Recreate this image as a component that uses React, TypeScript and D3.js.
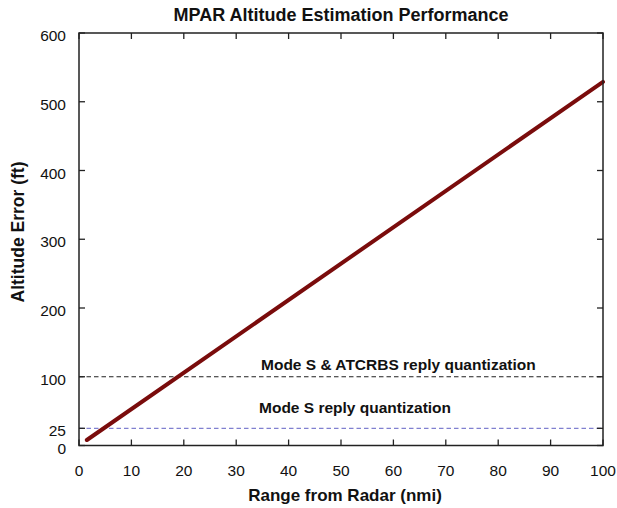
import React from "react";
import * as d3 from "d3";

const xTicks = [0, 10, 20, 30, 40, 50, 60, 70, 80, 90, 100];
const yTicks = [0, 25, 100, 200, 300, 400, 500, 600];
const rangeNmi = [1.5, 100];
const altitudeErrorFt = [8, 529];
const quantLevels = [100, 25];
const quantLabels = ["Mode S & ATCRBS reply quantization", "Mode S reply quantization"];
const quantColors = ["#222222", "#8080d0"];

const W = 617;
const H = 508;
const FONT = "'Liberation Sans', Arial, Helvetica, sans-serif";

export default function App() {
  const x = d3.scaleLinear().domain([0, 100]).range([79, 603]);
  const y = d3.scaleLinear().domain([0, 600]).range([445.5, 33]);
  const pts = rangeNmi.map((r, i) => [r, altitudeErrorFt[i]] as [number, number]);
  const line = d3.line<[number, number]>().x((d) => x(d[0])).y((d) => y(d[1]));
  const [x0, x1] = x.range();
  const [y0, y1] = y.range();
  const tl = 6;
  return (
    <svg width={W} height={H} style={{ position: "absolute", left: 0, top: 0, background: "#fff" }} fontFamily={FONT}>
      <text x={341} y={21} textAnchor="middle" fontSize={18} fontWeight="bold" fill="#111">
        MPAR Altitude Estimation Performance
      </text>
      {quantLevels.map((q, i) => (
        <g key={q}>
          <line x1={x0} x2={x1} y1={y(q)} y2={y(q)} stroke={quantColors[i]} strokeWidth={1.2} strokeDasharray="4.5,3" />
        </g>
      ))}
      <path d={line(pts) || ""} stroke="#7a0c0c" strokeWidth={4} fill="none" strokeLinecap="round" />
      <text x={261} y={370} fontSize={15.5} fontWeight="bold" fill="#111">{quantLabels[0]}</text>
      <text x={259} y={413} fontSize={15.5} fontWeight="bold" fill="#111">{quantLabels[1]}</text>
      <rect x={x0} y={y1} width={x1 - x0} height={y0 - y1} fill="none" stroke="#222" strokeWidth={1.5} />
      {xTicks.map((t) => (
        <g key={"x" + t}>
          <line x1={x(t)} x2={x(t)} y1={y0} y2={y0 - tl} stroke="#222" strokeWidth={1.3} />
          <line x1={x(t)} x2={x(t)} y1={y1} y2={y1 + tl} stroke="#222" strokeWidth={1.3} />
          <text x={x(t)} y={y0 + 30} textAnchor="middle" fontSize={15.5} fill="#111">{t}</text>
        </g>
      ))}
      {yTicks.map((t) => (
        <g key={"y" + t}>
          <line x1={x0} x2={x0 + tl} y1={y(t)} y2={y(t)} stroke="#222" strokeWidth={1.3} />
          <line x1={x1} x2={x1 - tl} y1={y(t)} y2={y(t)} stroke="#222" strokeWidth={1.3} />
          <text x={x0 - 13} y={y(t) + 8} textAnchor="end" fontSize={15.5} fill="#111">{t}</text>
        </g>
      ))}
      <text x={345} y={501} textAnchor="middle" fontSize={17} fontWeight="bold" fill="#111">
        Range from Radar (nmi)
      </text>
      <text transform={`translate(24, 232) rotate(-90)`} textAnchor="middle" fontSize={17.5} fontWeight="bold" fill="#111">
        Altitude Error (ft)
      </text>
    </svg>
  );
}
